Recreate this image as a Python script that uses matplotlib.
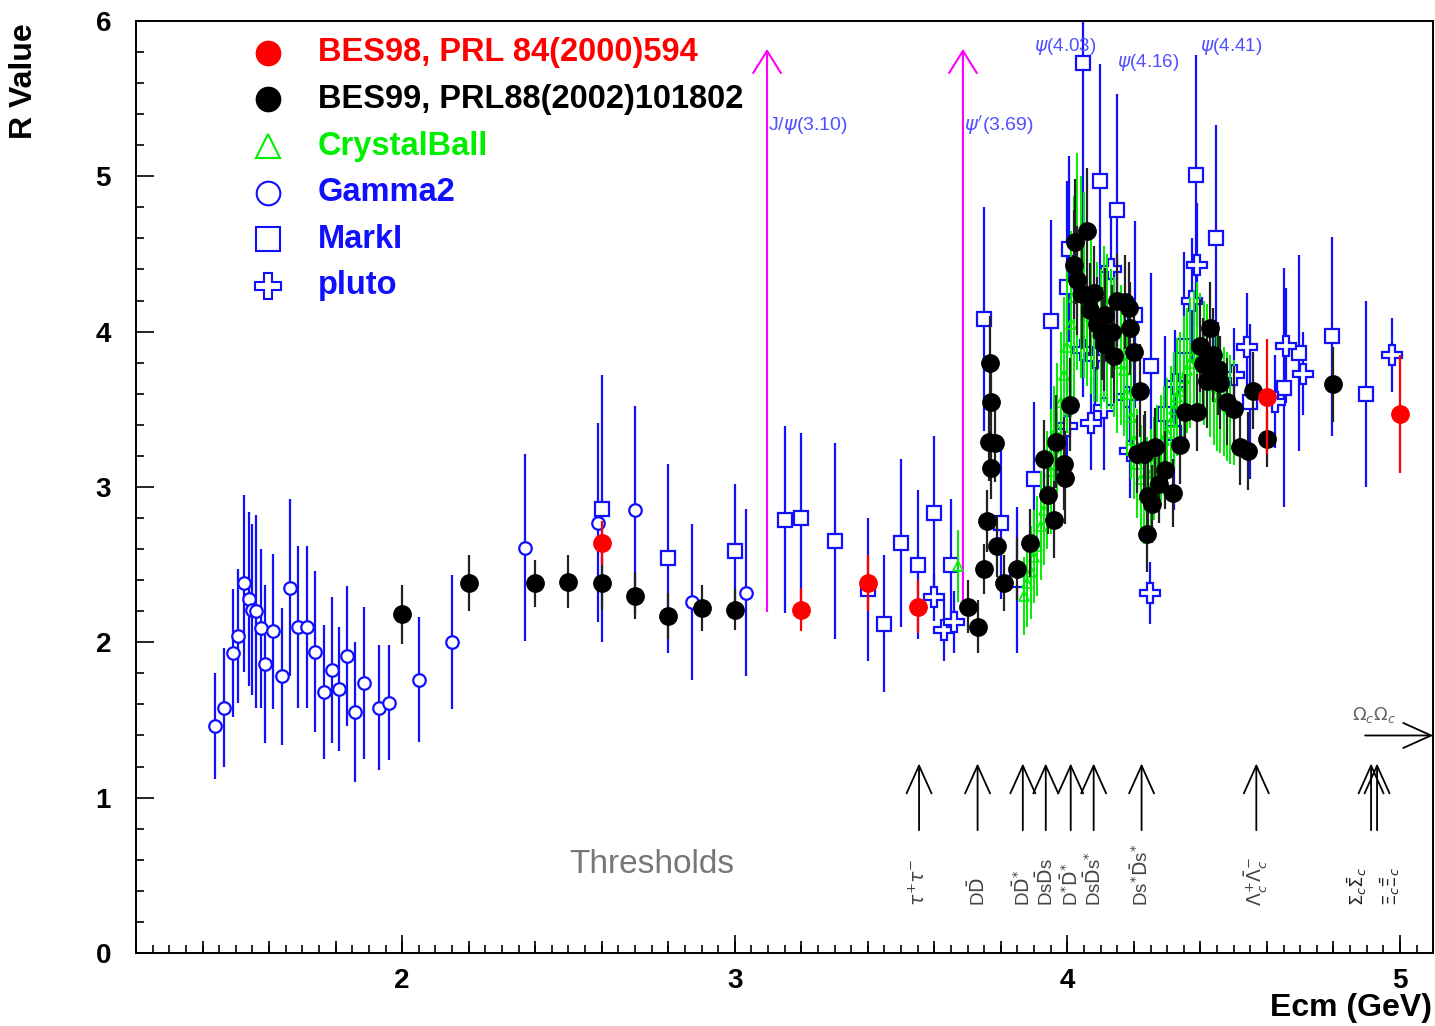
import matplotlib
matplotlib.use('Agg')
import matplotlib.pyplot as plt
from matplotlib.ticker import MultipleLocator

plt.rcParams['font.family'] = ['Liberation Sans', 'DejaVu Sans']
plt.rcParams['mathtext.fontset'] = 'dejavusans'

# ---- data (Ecm in GeV, R value, error) ----
bes98_e = [2.60, 3.20, 3.40, 3.55, 4.60, 5.00]
bes98_r = [2.64, 2.21, 2.38, 2.23, 3.58, 3.47]
bes98_err = [0.14, 0.14, 0.18, 0.17, 0.37, 0.38]

bes99_e = [2.00, 2.20, 2.40, 2.50, 2.60, 2.70, 2.80, 2.90, 3.00,
           3.70, 3.73, 3.749, 3.759, 3.764, 3.766, 3.769, 3.771, 3.782, 3.789,
           3.809, 3.849, 3.889, 3.929, 3.942, 3.959, 3.967, 3.989, 3.992, 4.007,
           4.019, 4.024, 4.029, 4.044, 4.059, 4.069, 4.079, 4.089, 4.104, 4.109,
           4.114, 4.134, 4.139, 4.149, 4.174, 4.184, 4.189, 4.199, 4.219, 4.209,
           4.229, 4.234, 4.239, 4.242, 4.254, 4.264, 4.274, 4.294, 4.319, 4.339,
           4.354, 4.389, 4.399, 4.409, 4.419, 4.429, 4.439, 4.454, 4.459, 4.479,
           4.502, 4.519, 4.542, 4.557, 4.599, 4.799]
bes99_r = [2.18, 2.38, 2.38, 2.39, 2.38, 2.30, 2.17, 2.22, 2.21,
           2.23, 2.10, 2.47, 2.78, 3.29, 3.80, 3.55, 3.12, 3.28, 2.62,
           2.38, 2.47, 2.64, 3.18, 2.95, 2.79, 3.29, 3.15, 3.06, 3.53,
           4.43, 4.58, 4.33, 4.24, 4.65, 4.14, 4.25, 4.05, 3.99, 3.92,
           4.11, 4.00, 3.84, 4.20, 4.19, 4.15, 4.02, 3.87, 3.62, 3.21,
           3.21, 3.24, 2.70, 2.94, 2.89, 3.26, 3.02, 3.11, 2.96, 3.27,
           3.48, 3.48, 3.91, 3.79, 3.68, 4.02, 3.85, 3.76, 3.67, 3.55,
           3.50, 3.26, 3.23, 3.62, 3.31, 3.66]
bes99_err = [0.19, 0.18, 0.15, 0.17, 0.17, 0.15, 0.15, 0.15, 0.13,
             0.17, 0.17, 0.16, 0.20, 0.25, 0.30, 0.25, 0.20, 0.25, 0.20,
             0.18, 0.20, 0.22, 0.25, 0.25, 0.25, 0.30, 0.30, 0.30, 0.30,
             0.35, 0.40, 0.35, 0.35, 0.40, 0.30, 0.30, 0.30, 0.30, 0.30,
             0.30, 0.30, 0.30, 0.30, 0.30, 0.30, 0.30, 0.30, 0.30, 0.25,
             0.25, 0.25, 0.25, 0.25, 0.25, 0.25, 0.25, 0.25, 0.22, 0.25,
             0.25, 0.25, 0.30, 0.30, 0.30, 0.30, 0.30, 0.30, 0.30, 0.28,
             0.28, 0.25, 0.25, 0.25, 0.18, 0.24]

cb_e = [3.67, 3.87, 3.88, 3.89, 3.90, 3.91, 3.92, 3.93, 3.94, 3.95, 3.96, 3.97,
        3.98, 3.99, 4.00, 4.01, 4.02, 4.03, 4.04, 4.05, 4.06, 4.07, 4.08, 4.09,
        4.10, 4.11, 4.12, 4.13, 4.14, 4.15, 4.16, 4.17, 4.18, 4.19, 4.20, 4.21,
        4.22, 4.23, 4.24, 4.25, 4.26, 4.27, 4.28, 4.29, 4.30, 4.31, 4.32, 4.33,
        4.34, 4.35, 4.36, 4.37, 4.38, 4.39, 4.40, 4.41, 4.42, 4.43, 4.44, 4.45,
        4.46, 4.47, 4.48, 4.49, 4.50]
cb_r = [2.49, 2.30, 2.38, 2.45, 2.55, 2.62, 2.75, 2.85, 2.98, 3.10, 3.25, 3.38,
        3.55, 3.72, 3.90, 4.05, 4.22, 4.45, 4.35, 4.30, 4.20, 4.10, 4.05, 4.00,
        3.95, 4.05, 4.00, 3.95, 3.90, 3.80, 3.85, 3.75, 3.60, 3.45, 3.30, 3.15,
        3.05, 2.95, 3.00, 3.05, 3.12, 3.20, 3.25, 3.30, 3.35, 3.42, 3.50, 3.58,
        3.62, 3.70, 3.75, 3.80, 3.85, 3.90, 3.85, 3.80, 3.78, 3.70, 3.65, 3.60,
        3.58, 3.55, 3.52, 3.50, 3.48]
cb_err = [0.23, 0.25, 0.28, 0.30, 0.30, 0.32, 0.35, 0.35, 0.38, 0.40, 0.40, 0.42,
          0.45, 0.50, 0.55, 0.60, 0.65, 0.70, 0.65, 0.60, 0.55, 0.50, 0.50, 0.45,
          0.45, 0.50, 0.50, 0.45, 0.45, 0.45, 0.45, 0.42, 0.40, 0.40, 0.38, 0.35,
          0.35, 0.32, 0.32, 0.32, 0.33, 0.33, 0.34, 0.35, 0.35, 0.36, 0.37, 0.38,
          0.38, 0.40, 0.40, 0.42, 0.42, 0.42, 0.40, 0.40, 0.40, 0.38, 0.38, 0.37,
          0.36, 0.35, 0.35, 0.35, 0.34]

gamma2_e = [1.436, 1.464, 1.492, 1.508, 1.524, 1.540, 1.550, 1.562, 1.575,
            1.587, 1.611, 1.639, 1.662, 1.687, 1.715, 1.739, 1.765, 1.789,
            1.811, 1.835, 1.858, 1.886, 1.930, 1.960, 2.050, 2.150, 2.369,
            2.589, 2.699, 2.870, 3.034]
gamma2_r = [1.46, 1.58, 1.93, 2.04, 2.38, 2.28, 2.21, 2.20, 2.09,
            1.86, 2.07, 1.78, 2.35, 2.10, 2.10, 1.94, 1.68, 1.82,
            1.70, 1.91, 1.55, 1.74, 1.58, 1.61, 1.76, 2.00, 2.61,
            2.77, 2.85, 2.26, 2.32]
gamma2_err = [0.34, 0.38, 0.41, 0.43, 0.57, 0.56, 0.55, 0.62, 0.51,
              0.51, 0.50, 0.44, 0.57, 0.52, 0.52, 0.52, 0.43, 0.47,
              0.40, 0.45, 0.45, 0.49, 0.40, 0.37, 0.40, 0.43, 0.60,
              0.64, 0.67, 0.50, 0.54]

markI_e = [2.60, 2.80, 3.00, 3.15, 3.20, 3.30, 3.40, 3.45, 3.50, 3.55, 3.60,
           3.65, 3.75, 3.80, 3.85, 3.90, 3.95, 4.00, 4.005, 4.046, 4.097,
           4.149, 4.204, 4.25, 4.294, 4.32, 4.35, 4.387, 4.447, 4.549, 4.65,
           4.696, 4.797, 4.899]
markI_r = [2.86, 2.54, 2.59, 2.79, 2.80, 2.65, 2.34, 2.12, 2.64, 2.50, 2.83,
           2.50, 4.08, 2.77, 2.40, 3.05, 4.07, 4.29, 4.53, 5.73, 4.97,
           4.78, 4.11, 3.78, 3.47, 3.35, 3.91, 5.01, 4.60, 3.55, 3.64,
           3.86, 3.97, 3.60]
markI_err = [0.86, 0.61, 0.43, 0.60, 0.55, 0.63, 0.46, 0.44, 0.54, 0.48, 0.50,
             0.42, 0.72, 0.49, 0.47, 0.50, 0.65, 0.68, 0.60, 1.20, 0.75,
             0.75, 0.60, 0.60, 0.50, 0.50, 0.60, 0.77, 0.73, 0.50, 0.77,
             0.63, 0.64, 0.60]

pluto_e = [3.599, 3.629, 3.659, 3.999, 4.047, 4.071, 4.084, 4.109, 4.131,
           4.179, 4.187, 4.249, 4.324, 4.374, 4.389, 4.502, 4.539, 4.624,
           4.657, 4.709, 4.977]
pluto_r = [2.29, 2.08, 2.13, 3.39, 3.88, 3.41, 3.83, 3.51, 4.40,
           3.58, 3.23, 2.32, 3.66, 4.20, 4.43, 3.72, 3.90, 3.55,
           3.91, 3.73, 3.85]
pluto_err = [0.15, 0.20, 0.20, 0.30, 0.30, 0.30, 0.30, 0.40, 0.35,
             0.35, 0.30, 0.20, 0.35, 0.40, 0.40, 0.30, 0.35, 0.30,
             0.37, 0.27, 0.24]

# resonances (name, mass) and production thresholds
res_names = [r'J/$\psi$(3.10)', r"$\psi'$(3.69)", r'$\psi$(4.03)', r'$\psi$(4.16)', r'$\psi$(4.41)']
res_mass = [3.097, 3.686, 4.03, 4.16, 4.41]
thr_names = [r'$\tau^{+}\tau^{-}$', r'D$\bar{\rm D}$', r'D$\bar{\rm D}^{*}$', r'Ds$\bar{\rm D}$s',
             r'D$^{*}\bar{\rm D}^{*}$', r'Ds$\bar{\rm D}$s$^{*}$', r'Ds$^{*}\bar{\rm D}$s$^{*}$',
             r'$\Lambda^{+}_{c}\bar{\Lambda}^{-}_{c}$', r'$\Sigma_{c}\bar{\Sigma}_{c}$', r'$\Xi_{c}\bar{\Xi}_{c}$']
thr_e = [3.554, 3.730, 3.866, 3.935, 4.010, 4.079, 4.223, 4.568, 4.913, 4.931]

fig = plt.figure(figsize=(14.35, 10.26), dpi=100)
ax = fig.add_axes([0.0948, 0.0712, 0.904, 0.9084])

blue = '#1010ff'
eb = dict(ls='none', capsize=0, elinewidth=1.6)
ax.errorbar(gamma2_e, gamma2_r, yerr=gamma2_err, fmt='o', ms=9, mfc='white', mec=blue,
            mew=1.6, ecolor=blue, **eb, zorder=2)
ax.errorbar(markI_e, markI_r, yerr=markI_err, fmt='s', ms=10, mfc='white', mec=blue,
            mew=1.6, ecolor=blue, **eb, zorder=2)
ax.errorbar(pluto_e, pluto_r, yerr=pluto_err, fmt='P', ms=14, mfc='white', mec=blue,
            mew=1.6, ecolor=blue, **eb, zorder=2)
ax.errorbar(cb_e, cb_r, yerr=cb_err, fmt='^', ms=7, mfc='none', mec='#00ee00',
            mew=1.2, ecolor='#00ee00', ls='none', capsize=0, elinewidth=1.4, zorder=3)
ax.errorbar(bes99_e, bes99_r, yerr=bes99_err, fmt='o', ms=12.5, color='black',
            ecolor='#222222', **eb, zorder=4)
ax.errorbar(bes98_e, bes98_r, yerr=bes98_err, fmt='o', ms=12.5, color='red',
            ecolor='red', **eb, zorder=5)

ax.set_xlim(1.2, 5.1)
ax.set_ylim(0, 6)

# resonance arrows
for i, (nm, m) in enumerate(zip(res_names, res_mass)):
    if i < 2:
        ax.annotate('', xy=(m, 5.82), xytext=(m, 2.2),
                    arrowprops=dict(arrowstyle='->,head_length=0.8,head_width=0.5',
                                    color='#ff00ff', lw=1.5, shrinkA=0, shrinkB=0,
                                    mutation_scale=20), zorder=1)
        ax.text(m + 0.003, 5.33, nm, color='#5050ff', fontsize=14, va='center', ha='left')
    else:
        ytxt = 5.73 if nm.endswith('(4.16)') else 5.835
        ax.text(m - 0.13 if i == 2 else m - 0.012, ytxt, nm, color='#5050ff', fontsize=13.5,
                va='center', ha='left')

# thresholds
for nm, e in zip(thr_names, thr_e):
    ax.annotate('', xy=(e, 1.22), xytext=(e, 0.79),
                arrowprops=dict(arrowstyle='->,head_length=1.0,head_width=0.45',
                                color='black', lw=1.3, shrinkA=0, shrinkB=0,
                                mutation_scale=20))
for nm, e in zip(thr_names[:8], thr_e[:8]):
    ax.text(e, 0.30, nm, rotation=90, ha='center', va='bottom', fontsize=13.5, color='#444444')
ax.text(4.87, 0.30, thr_names[8], rotation=90, ha='center', va='bottom', fontsize=13, color='#222222')
ax.text(4.97, 0.30, thr_names[9], rotation=90, ha='center', va='bottom', fontsize=13, color='#222222')
ax.annotate('', xy=(5.1, 1.40), xytext=(4.895, 1.40),
            arrowprops=dict(arrowstyle='->,head_length=1.0,head_width=0.45',
                            color='black', lw=1.3, shrinkA=0, shrinkB=0, mutation_scale=20))
ax.text(4.855, 1.53, r'$\Omega_{c}\Omega_{c}$', color='#666666', fontsize=13, ha='left', va='center')
ax.text(2.75, 0.57, 'Thresholds', color='#777777', fontsize=24, ha='center', va='center')

# legend drawn by hand, ROOT style
leg = [('BES98, PRL 84(2000)594', 'o', 'red', 'red'),
       ('BES99, PRL88(2002)101802', 'o', 'black', 'black'),
       ('CrystalBall', '^', 'white', '#00ee00'),
       ('Gamma2', 'o', 'white', blue),
       ('MarkI', 's', 'white', blue),
       ('pluto', 'P', 'white', blue)]
for k, (lab, mk, fc, ec) in enumerate(leg):
    yy = 0.9657 - k * 0.0500
    ax.plot([0.1016], [yy], marker=mk, ms=17 if mk != 'P' else 19, mfc=fc, mec=ec, mew=1.5,
            transform=ax.transAxes, clip_on=False)
    ax.text(0.1401, yy, lab, color=ec, fontsize=23.5,
            fontweight='bold', ha='left', va='center', transform=ax.transAxes)

# axes style
ax.xaxis.set_major_locator(MultipleLocator(1))
ax.xaxis.set_minor_locator(MultipleLocator(0.05))
ax.yaxis.set_major_locator(MultipleLocator(1))
ax.yaxis.set_minor_locator(MultipleLocator(0.2))
ax.tick_params(which='both', direction='in', top=False, right=False, width=1.2)
ax.tick_params(which='major', length=13, labelsize=20)
ax.tick_params(which='minor', length=6)
ax.tick_params(axis='x', which='major', pad=11)
ax.tick_params(axis='y', which='major', pad=18)
for t in ax.get_xticklabels() + ax.get_yticklabels():
    t.set_fontweight('bold')
sec = ax.secondary_xaxis('bottom')
sec.xaxis.set_major_locator(MultipleLocator(0.2))
sec.tick_params(direction='in', length=9, width=1.2, labelbottom=False)
sec.spines['bottom'].set_visible(False)
for s in ax.spines.values():
    s.set_linewidth(1.4)

fig.text(0.017, 0.977, 'R Value', rotation=90, ha='center', va='top', fontsize=23, fontweight='bold')
fig.text(0.998, 0.0175, 'Ecm (GeV)', ha='right', va='center', fontsize=23, fontweight='bold')

fig.savefig('out.png', dpi=100)
